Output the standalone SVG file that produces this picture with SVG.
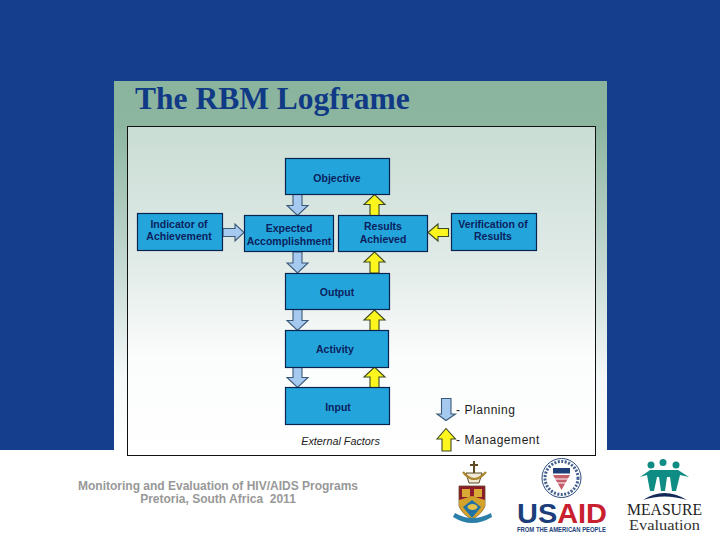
<svg xmlns="http://www.w3.org/2000/svg" width="720" height="540" viewBox="0 0 720 540">
<style>
.box{fill:#23a5dc;stroke:#0a2450;stroke-width:1.2}
.t{font-family:"Liberation Sans",Arial,sans-serif;font-size:10.5px;font-weight:bold;fill:#0b1f5c;text-anchor:middle}
.dn{fill:#a6c9ef;stroke:#3b5a78;stroke-width:1.1}
.up{fill:#fdf61e;stroke:#3d4a20;stroke-width:1.1}
.lg{font-family:"Liberation Sans",Arial,sans-serif;font-size:12px;fill:#1c1c1c;letter-spacing:.55px}
.ft{font-family:"Liberation Sans",Arial,sans-serif;font-size:12px;font-weight:bold;fill:#989898;text-anchor:middle}
</style>
<defs>
<linearGradient id="pg" x1="0" y1="0" x2="0" y2="1"><stop offset="0" stop-color="#8ab49d"/><stop offset=".12" stop-color="#8db6a1"/><stop offset=".5" stop-color="#c5d9d2"/><stop offset=".8" stop-color="#f4f8f8"/><stop offset="1" stop-color="#ffffff"/></linearGradient>
<linearGradient id="ig" x1="0" y1="0" x2="0" y2="1"><stop offset="0" stop-color="#c9ddd4"/><stop offset=".4" stop-color="#e0eae7"/><stop offset=".7" stop-color="#fbfcfc"/><stop offset="1" stop-color="#ffffff"/></linearGradient>
<path id="d" d="M-4.500 0H4.500V11H10.500L0 21L-10.500 11H-4.500Z"/>
<path id="u" d="M-4.500 21V10H-10.500L0 0L10.500 10H4.500V21Z"/>
</defs>
<rect width="720" height="540" fill="#153e8c"/>
<rect y="450" width="720" height="90" fill="#fff"/>
<rect x="114" y="81" width="493" height="369" fill="url(#pg)"/>
<rect x="127.500" y="126.500" width="468" height="329" fill="url(#ig)" stroke="#111" stroke-width="1"/>
<text x="135" y="109" font-family="'Liberation Serif','Times New Roman',serif" font-size="31.500" font-weight="bold" fill="#103a86">The RBM Logframe</text>

<g id="connectors">
<use href="#d" class="dn" x="297.500" y="194.500"/>
<use href="#d" class="dn" x="297.500" y="252"/>
<use href="#d" class="dn" x="297.500" y="309.500"/>
<use href="#d" class="dn" x="297.500" y="366.500"/>
<use href="#u" class="up" x="374.500" y="194.500"/>
<use href="#u" class="up" x="374.500" y="252"/>
<use href="#u" class="up" x="374.500" y="310"/>
<use href="#u" class="up" x="374.500" y="367"/>
<path class="dn" d="M223 228.500H235V224L244 232.500L235 241V236.500H223Z"/>
<path class="up" d="M448.500 228.500H438V224L428 232.500L438 241V236.500H448.500Z"/>
</g>

<g id="objective"><rect class="box" x="285.500" y="158.500" width="104" height="36"/><text class="t" x="337" y="182">Objective</text></g>
<g id="indicator"><rect class="box" x="137.500" y="213.500" width="85" height="37"/><text class="t" x="179" y="228">Indicator of</text><text class="t" x="179" y="240">Achievement</text></g>
<g id="expected"><rect class="box" x="244.500" y="215.500" width="89" height="36"/><text class="t" x="289" y="232">Expected</text><text class="t" x="289" y="245">Accomplishment</text></g>
<g id="results"><rect class="box" x="338.500" y="215.500" width="89" height="36"/><text class="t" x="383" y="230">Results</text><text class="t" x="383" y="243">Achieved</text></g>
<g id="verification"><rect class="box" x="451.500" y="213.500" width="85" height="37"/><text class="t" x="493" y="228">Verification of</text><text class="t" x="493" y="240">Results</text></g>
<g id="output"><rect class="box" x="285.500" y="273.500" width="104" height="36"/><text class="t" x="337" y="296">Output</text></g>
<g id="activity"><rect class="box" x="285.500" y="330.500" width="103" height="37"/><text class="t" x="335" y="353">Activity</text></g>
<g id="input"><rect class="box" x="285.500" y="387.500" width="104" height="37"/><text class="t" x="338" y="411">Input</text></g>

<text x="340.500" y="445" font-family="'Liberation Sans',Arial,sans-serif" font-size="10.800" font-style="italic" fill="#222" text-anchor="middle">External Factors</text>

<g id="legend">
<path class="dn" d="M441.500 398.500H451V414H455.500L446 420.500L437 414H441.500Z"/>
<text class="lg" x="456" y="414">- Planning</text>
<path class="up" d="M442 451V439H437L446 428.500L455.500 439H451V451Z"/>
<text class="lg" x="456" y="444">- Management</text>
</g>

<text class="ft" x="218" y="490">Monitoring and Evaluation of HIV/AIDS Programs</text>
<text class="ft" x="218" y="503" xml:space="preserve" style="white-space:pre">Pretoria, South Africa  2011</text>

<g id="crest">
<path d="M466 473H482L479 483H469Z" fill="#efe9d4" stroke="#5d4a22" stroke-width="1"/>
<path d="M474 461V473M470 465H478" stroke="#5d4a22" stroke-width="2" fill="none"/>
<path d="M463 472Q474 486 486 472" stroke="#a9852c" stroke-width="2.200" fill="none"/>
<path d="M459 486H485V506Q481 515 472 519Q463 515 459 506Z" fill="#8f1a2a" stroke="#5d4a22" stroke-width=".8"/>
<rect x="462" y="489" width="8" height="8" fill="#d8ac34"/><rect x="474" y="489" width="8" height="8" fill="#d8ac34"/>
<path d="M459 500L472 496L485 500V506Q481 515 472 519Q463 515 459 506Z" fill="#d3a22c"/>
<path d="M463 507L472 500L481 507L472 518Z" fill="#1f72a4"/>
<ellipse cx="472.500" cy="507" rx="5" ry="3" fill="#e2c04a"/>
<path d="M453 517Q472 529 492 517L491 513Q472 523 455 513Z" fill="#2b7fa8"/>
</g>

<g id="usaid">
<circle cx="561.500" cy="478" r="19.500" fill="#fff" stroke="#2b4a80" stroke-width="1"/>
<circle cx="561.500" cy="478" r="16.500" fill="none" stroke="#43608f" stroke-width="3" stroke-dasharray="2 1.500"/>
<rect x="553" y="468" width="17" height="5.500" fill="#1f3f79"/>
<path d="M553 475H570L561.500 490Z" fill="#c4606c"/>
<path d="M554 479H569M556 483H567" stroke="#fff" stroke-width="1"/>
<text x="517" y="523" font-family="'Liberation Sans',Arial,sans-serif" font-size="28" font-weight="bold" textLength="90" lengthAdjust="spacingAndGlyphs" fill="#1c3f7c">US<tspan fill="#c8202f">AID</tspan></text>
<text x="517" y="531.500" font-family="'Liberation Sans',Arial,sans-serif" font-size="6.500" font-weight="bold" textLength="89" lengthAdjust="spacingAndGlyphs" fill="#1c3f7c">FROM THE AMERICAN PEOPLE</text>
</g>

<g id="measure">
<g fill="#0f8c84">
<circle cx="651" cy="465" r="3.500"/><circle cx="663" cy="462.500" r="3.500"/><circle cx="676" cy="465" r="3.500"/>
<path d="M640 477L650 470H678L689 477L680 475L676 491H672L670 477H667L665 491H661L659 477H657L654 491H650L647 475Z"/>
</g>
<path d="M643 500Q664 486 687 500Q664 493 643 500Z" fill="#14295a"/>
<text x="627" y="515" font-family="'Liberation Serif','Times New Roman',serif" font-size="17" textLength="75" lengthAdjust="spacingAndGlyphs" fill="#222">MEASURE</text>
<text x="629" y="530" font-family="'Liberation Serif','Times New Roman',serif" font-size="15" textLength="71" lengthAdjust="spacingAndGlyphs" fill="#333">Evaluation</text>
</g>
</svg>
